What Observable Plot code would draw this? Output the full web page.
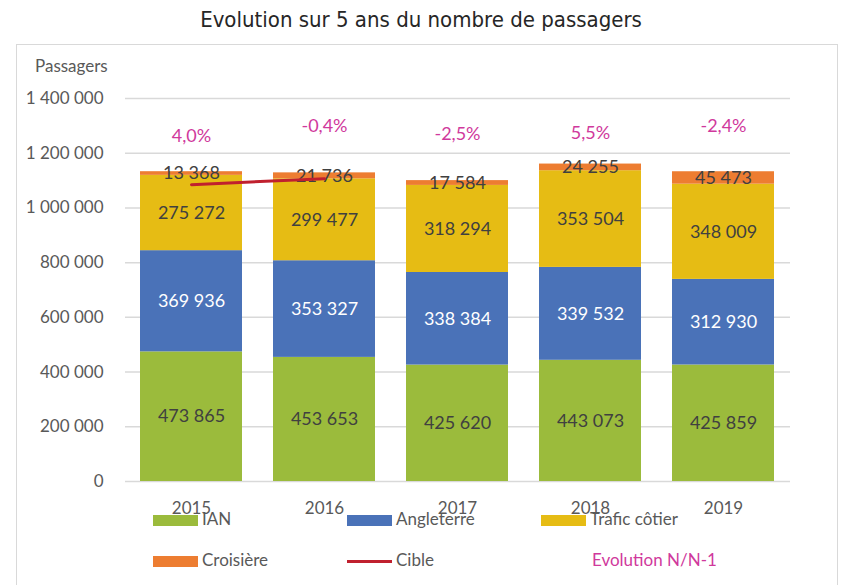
<!DOCTYPE html>
<html>
<head>
<meta charset="utf-8">
<script src="https://cdn.jsdelivr.net/npm/d3@7"></script>
<script src="https://cdn.jsdelivr.net/npm/@observablehq/plot@0.6"></script>
<style>
  html, body { margin: 0; padding: 0; background: #fff; }
  #wrap { position: relative; width: 842px; height: 585px; overflow: hidden; font-family: Lato, sans-serif; }
  #title { position: absolute; left: 0; width: 842px; top: 7px; text-align: center;
           font-family: "DejaVu Sans Condensed", "DejaVu Sans", sans-serif; font-size: 22px; color: #262626; }
  #frame { position: absolute; left: 16px; top: 44px; width: 822px; height: 600px; border: 1.5px solid #d9d9d9; box-sizing: border-box; }
  #ylab { position: absolute; left: 35px; top: 55px; font-size: 17px; color: #595959; }
  #chart { position: absolute; left: 0; top: 0; }
  .lg { position: absolute; font-size: 17px; color: #595959; line-height: 20px; }
  .sw { position: absolute; }
</style>
</head>
<body>
<div id="wrap">
  <div id="frame"></div>
  <div id="title">Evolution sur 5 ans du nombre de passagers</div>
  <div id="ylab">Passagers</div>
  <div id="chart"></div>
  <div id="legend"></div>
</div>
<script>
// ---- data ----
const years = ["2015", "2016", "2017", "2018", "2019"];
const series = ["IAN", "Angleterre", "Trafic côtier", "Croisière"];
const ian = [473865, 453653, 425620, 443073, 425859];
const angleterre = [369936, 353327, 338384, 339532, 312930];
const traficCotier = [275272, 299477, 318294, 353504, 348009];
const croisiere = [13368, 21736, 17584, 24255, 45473];
const cibleYears = ["2015", "2016"];
const cible = [1085000, 1107000];
const evolution = [4.0, -0.4, -2.5, 5.5, -2.4];
const evolutionLabelY = [1262000, 1300000, 1268000, 1272000, 1297000];
const yTicks = [0, 200000, 400000, 600000, 800000, 1000000, 1200000, 1400000];

const colors = ["#9BBB3C", "#4A72B8", "#E6BC14", "#ED7D31"];
const labelColors = ["#404040", "#ffffff", "#404040", "#404040"];
const pink = "#D0399C";

const fr = d3.formatLocale({decimal: ",", thousands: "\u00a0", grouping: [3], currency: ["", " €"]});
const fmtInt = fr.format(",d");
const fmtPct = v => v.toFixed(1).replace(".", ",") + "%";

const valuesBySeries = [ian, angleterre, traficCotier, croisiere];
const rows = [];
series.forEach((s, si) => {
  years.forEach((y, yi) => {
    rows.push({year: y, serie: s, value: valuesBySeries[si][yi], lc: labelColors[si]});
  });
});
const cibleRows = cibleYears.map((y, i) => ({year: y, value: cible[i]}));
const evolRows = years.map((y, i) => ({year: y, pos: evolutionLabelY[i], text: fmtPct(evolution[i])}));

const chart = Plot.plot({
  width: 842,
  height: 585,
  marginTop: 98,
  marginBottom: 104,
  marginLeft: 125,
  marginRight: 52,
  style: {fontFamily: "Lato, sans-serif", fontSize: "17px", background: "transparent", color: "#595959"},
  x: {domain: years, paddingInner: 0.23, paddingOuter: 0.115, label: null},
  y: {domain: [0, 1400000], label: null},
  color: {domain: series, range: colors},
  marks: [
    Plot.gridY(yTicks, {stroke: "#d9d9d9", strokeOpacity: 1, strokeWidth: 1.5}),
    Plot.barY(rows, {x: "year", y: "value", fill: "serie", z: "serie", order: series}),
    Plot.text(rows, Plot.stackY({x: "year", y: "value", z: "serie", order: series,
      text: d => fmtInt(d.value), fill: "lc", fontSize: 18})),
    Plot.line(cibleRows, {x: "year", y: "value", stroke: "#C0202E", strokeWidth: 3}),
    Plot.text(evolRows, {x: "year", y: "pos", text: "text", fill: pink, fontSize: 18}),
    Plot.axisX({tickSize: 0, tickPadding: 20, fontSize: 17, label: null}),
    Plot.axisY(yTicks, {tickSize: 0, tickPadding: 22, fontSize: 17, tickFormat: fmtInt, label: null})
  ]
});
document.getElementById("chart").appendChild(chart);

// ---- legend ----
const legendItems = [
  {label: "IAN", kind: "rect", color: colors[0], x: 153, y: 520},
  {label: "Angleterre", kind: "rect", color: colors[1], x: 347, y: 520},
  {label: "Trafic côtier", kind: "rect", color: colors[2], x: 541, y: 520},
  {label: "Croisière", kind: "rect", color: colors[3], x: 153, y: 561},
  {label: "Cible", kind: "line", color: "#C0202E", x: 347, y: 561}
];
const lg = document.getElementById("legend");
legendItems.forEach(it => {
  const sw = document.createElement("div");
  sw.className = "sw";
  const h = it.kind === "rect" ? 11 : 3;
  sw.style.cssText = `left:${it.x}px;top:${it.y - h / 2}px;width:45px;height:${h}px;background:${it.color};`;
  lg.appendChild(sw);
  const t = document.createElement("div");
  t.className = "lg";
  t.textContent = it.label;
  t.style.left = (it.x + 49) + "px";
  t.style.top = (it.y - 11) + "px";
  lg.appendChild(t);
});
const ev = document.createElement("div");
ev.className = "lg";
ev.textContent = "Evolution N/N-1";
ev.style.cssText = `left:592px;top:550px;color:${pink};`;
lg.appendChild(ev);
</script>
</body>
</html>
